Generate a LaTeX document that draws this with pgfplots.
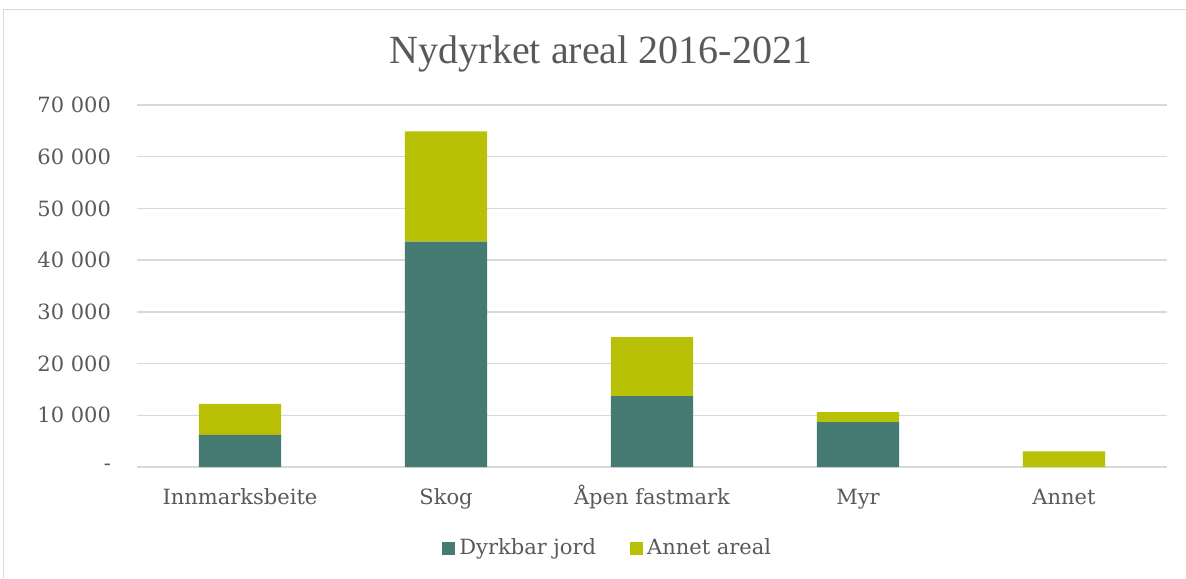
\documentclass[border=0pt]{standalone}
\usepackage{pgfplots}
\pgfplotsset{compat=1.18}
\usepackage{fontspec}
\setmainfont{DejaVu Serif}
\newfontfamily\titlefont{Liberation Serif}

\definecolor{dyrk}{HTML}{457B73}
\definecolor{annet}{HTML}{B8C106}
\definecolor{txtgray}{HTML}{595959}
\definecolor{gridgray}{HTML}{D9D9D9}

\begin{document}
\begin{tikzpicture}
  % 1px = 0.5pt
  \useasboundingbox (0,0) rectangle (593pt,289pt);
  \draw[gridgray, line width=0.8pt] (1.75pt,0) -- (1.75pt,284.25pt) -- (593pt,284.25pt);
  \node[anchor=base, text=txtgray, font=\titlefont\fontsize{20}{24}\selectfont]
    at (300.5pt,257pt) {Nydyrket areal 2016-2021};

  \begin{axis}[
      at={(68.5pt,55.5pt)}, anchor=south west,
      scale only axis,
      width=515pt, height=181pt,
      ybar stacked,
      bar width=0.4,
      xmin=-0.5, xmax=4.5,
      ymin=0, ymax=70000,
      scaled y ticks=false,
      ytick={0,10000,...,70000},
      yticklabels={-,10 000,20 000,30 000,40 000,50 000,60 000,70 000},
      xtick={0,1,2,3,4},
      xticklabels={Innmarksbeite,Skog,Åpen fastmark,Myr,Annet},
      major tick length=0pt,
      axis line style={draw=none},
      ymajorgrids,
      major grid style={gridgray, line width=0.7pt},
      tick label style={font=\fontsize{10.5}{12}\selectfont, text=txtgray},
      yticklabel style={xshift=-9.5pt},
      xticklabel style={anchor=base, yshift=-18.5pt},
      legend style={
        at={(0.458,-0.224)}, anchor=center,
        draw=none, fill=none,
        font=\fontsize{10.5}{12}\selectfont, text=txtgray,
        legend columns=2,
        /tikz/every even column/.append style={column sep=15pt},
      },
      legend image code/.code={\fill[#1] (0pt,-3.25pt) rectangle (6.5pt,3.25pt);},
    ]
    \addplot[fill=dyrk, draw=none] coordinates {
      (0,6200) (1,43600) (2,13700) (3,8700) (4,0)
    };
    \addlegendentry{Dyrkbar jord}
    \addplot[fill=annet, draw=none] coordinates {
      (0,6000) (1,21300) (2,11400) (3,1900) (4,3000)
    };
    \addlegendentry{Annet areal}
  \end{axis}
\end{tikzpicture}
\end{document}
